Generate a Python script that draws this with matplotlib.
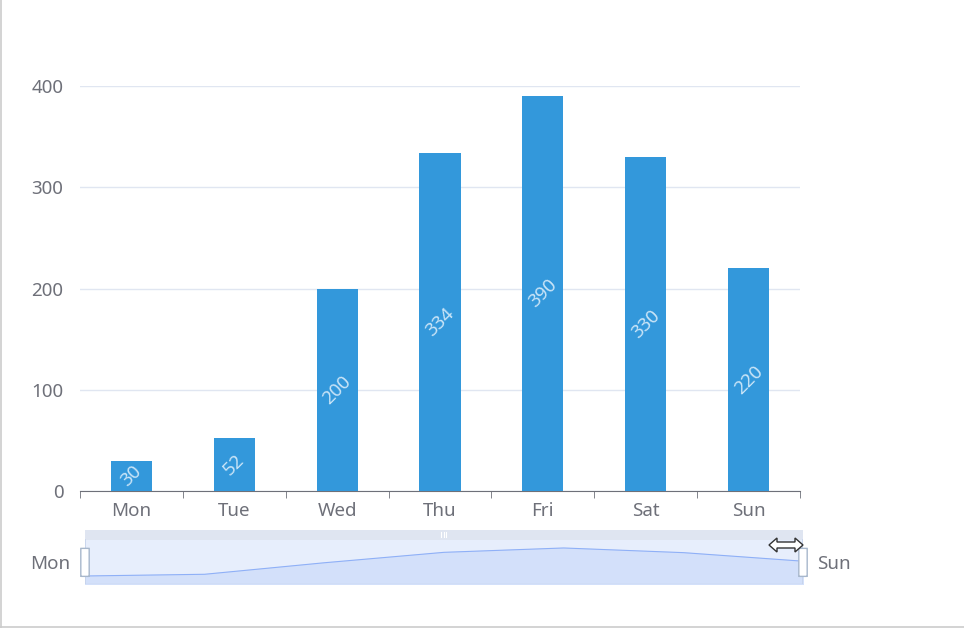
import matplotlib.pyplot as plt
from matplotlib.patches import FancyBboxPatch, Polygon, Rectangle
from matplotlib.lines import Line2D

# chart data
days = ['Mon', 'Tue', 'Wed', 'Thu', 'Fri', 'Sat', 'Sun']
values = [30, 52, 200, 334, 390, 330, 220]
y_ticks = [0, 100, 200, 300, 400]

BAR_COLOR = '#3398db'
TEXT_COLOR = '#6e7079'
GRID_COLOR = '#e0e6f1'
FS = 13.5

plt.rcParams['font.family'] = ['Noto Sans', 'DejaVu Sans']

fig = plt.figure(figsize=(9.64, 6.28), dpi=100)
W, H = 964, 628

# main bar chart
ax = fig.add_axes([80 / W, 1 - 491 / H, 720 / W, 405 / H])
x = list(range(len(days)))
ax.bar(x, values, width=0.4, color=BAR_COLOR, zorder=3)
ax.set_xlim(-0.5, len(days) - 0.5)
ax.set_ylim(0, 400)
ax.set_yticks(y_ticks)
ax.set_yticklabels([str(v) for v in y_ticks])
ax.grid(axis='y', color=GRID_COLOR, linewidth=1, zorder=0)
ax.set_axisbelow(True)
for s in ['top', 'right', 'left']:
    ax.spines[s].set_visible(False)
ax.spines['bottom'].set_color(TEXT_COLOR)
ax.tick_params(axis='y', length=0, labelsize=FS, labelcolor=TEXT_COLOR, pad=12)
ax.set_xticks(x)
ax.set_xticklabels(days)
ax.tick_params(axis='x', length=0, labelsize=FS, labelcolor=TEXT_COLOR, pad=8)
# boundary tick marks between categories
ax.set_xticks([i - 0.5 for i in range(len(days) + 1)], minor=True)
ax.tick_params(axis='x', which='minor', length=5, color=TEXT_COLOR, direction='out')

# rotated value labels in the middle of each bar
for i, v in enumerate(values):
    ax.text(i, v / 2, str(v), rotation=45, ha='center', va='center',
            color='#c9e4f7', fontsize=FS, zorder=4)

# data zoom slider
sx = fig.add_axes([85 / W, 1 - 584 / H, 718 / W, 54 / H])
ymin, ymax = -73, 621
sx.set_xlim(0, len(days) - 1)
sx.set_ylim(ymin, ymax)
sx.axis('off')
strip = 493
sx.add_patch(Rectangle((0, ymin), len(days) - 1, strip - ymin,
                       facecolor='#e7eefc', edgecolor='none', zorder=1))
sx.fill_between(x, values, ymin, color='#d3e0fa', zorder=2)
sx.plot(x, values, color='#8fb0f7', linewidth=0.8, zorder=3)
sx.add_patch(Rectangle((0, strip), len(days) - 1, ymax - strip,
                       facecolor='#dfe5f1', edgecolor='none', zorder=2))
sx.plot([0, 0], [ymin, strip], color='#c5d2ea', linewidth=1.2, zorder=4)
sx.plot([6, 6], [ymin, strip], color='#c5d2ea', linewidth=1.2, zorder=4)
sx.plot([0, 6], [ymin, ymin], color='#c5d2ea', linewidth=1, zorder=4)
# grip mark on the top strip
for dx in (-0.02, 0, 0.02):
    sx.plot([2.998 + dx, 2.998 + dx], [530, 590], color='white', linewidth=0.8, zorder=5)
# handles
for hx in (0, 6):
    sx.add_patch(FancyBboxPatch((hx - 0.035, 25), 0.07, 360,
                                boxstyle='round,pad=0,rounding_size=0.02',
                                mutation_aspect=40,
                                facecolor='white', edgecolor='#a7b7cc',
                                linewidth=1, zorder=6, clip_on=False))
sx.text(-0.12, 180, 'Mon', ha='right', va='center', color=TEXT_COLOR, fontsize=FS)
sx.text(6.12, 180, 'Sun', ha='left', va='center', color=TEXT_COLOR, fontsize=FS)

# resize cursor (double arrow), pixel outline
cursor_px = [(769, 545), (777, 538), (777, 542), (795, 542), (795, 538),
             (803, 545), (795, 552), (795, 548), (777, 548), (777, 552)]
fig.patches.append(Polygon([(px / W, 1 - py / H) for px, py in cursor_px],
                           closed=True, transform=fig.transFigure,
                           facecolor='white', edgecolor='#333333',
                           linewidth=1, zorder=10))

# outer border (left and bottom)
fig.add_artist(Line2D([0.5 / W, 0.5 / W], [0, 1], transform=fig.transFigure,
                      color='#cccccc', linewidth=1.2))
fig.add_artist(Line2D([0, 1], [1 / H, 1 / H], transform=fig.transFigure,
                      color='#cccccc', linewidth=1.2))

fig.savefig('out.png', dpi=100)
